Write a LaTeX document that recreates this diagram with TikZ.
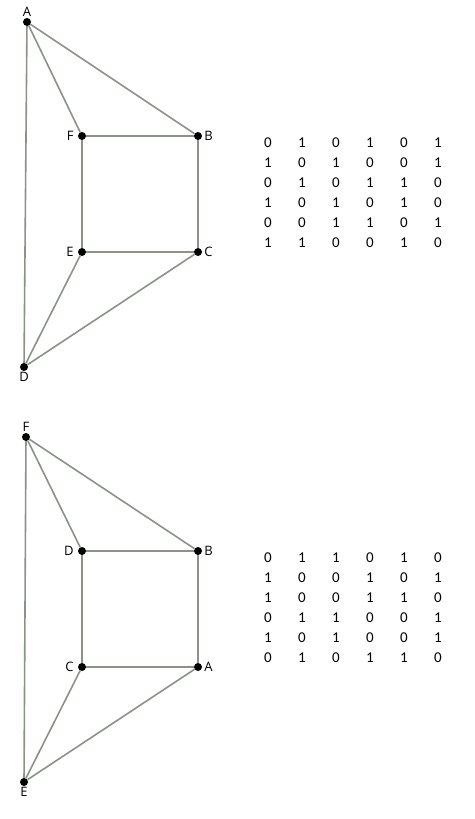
\documentclass[tikz,border=0pt]{standalone}
\usepackage{fontspec}
\setmainfont{Carlito}
\newfontfamily\labelfont{Open Sans}
\usetikzlibrary{matrix}
\definecolor{edgegray}{HTML}{8A928A}

\tikzset{
  vtx/.style={circle, fill=black, inner sep=0pt, minimum size=8pt},
  edge/.style={draw=edgegray, line width=1.6pt},
  vlabel/.style={font=\labelfont\fontsize{13}{15}\selectfont, inner sep=1pt},
  adjmat/.style={matrix of nodes, column sep=0pt, row sep=0pt,
    nodes={minimum width=34pt, minimum height=20pt, inner sep=0pt,
           font=\fontsize{15}{17}\selectfont}}
}

\begin{document}
\begin{tikzpicture}[x=1pt, y=-1pt]
    \useasboundingbox (0,0) rectangle (474,819);

    % first labelling
    \node[vtx, label={[vlabel, label distance=0pt]above:A}] (a1) at (27,22) {};
    \node[vtx, label={[vlabel, label distance=3pt]left:F}] (f1) at (82,136) {};
    \node[vtx, label={[vlabel, label distance=1pt]right:B}] (b1) at (198,136) {};
    \node[vtx, label={[vlabel, label distance=3pt]left:E}] (e1) at (82,252) {};
    \node[vtx, label={[vlabel, label distance=1pt]right:C}] (c1) at (198,252) {};
    \node[vtx, label={[vlabel, label distance=0pt]below:D}] (d1) at (24,367) {};
    \draw[edge] (a1) -- (b1) (a1) -- (f1) (a1) -- (d1)
                (f1) -- (b1) (f1) -- (e1) (b1) -- (c1)
                (e1) -- (c1) (e1) -- (d1) (c1) -- (d1);

    \matrix (adj1) [adjmat] at (353,193) {
      0 & 1 & 0 & 1 & 0 & 1 \\
      1 & 0 & 1 & 0 & 0 & 1 \\
      0 & 1 & 0 & 1 & 1 & 0 \\
      1 & 0 & 1 & 0 & 1 & 0 \\
      0 & 0 & 1 & 1 & 0 & 1 \\
      1 & 1 & 0 & 0 & 1 & 0 \\
    };

    % second labelling
    \node[vtx, label={[vlabel, label distance=0pt]above:F}] (f2) at (26,437) {};
    \node[vtx, label={[vlabel, label distance=3pt]left:D}] (d2) at (82,551) {};
    \node[vtx, label={[vlabel, label distance=1pt]right:B}] (b2) at (198,551) {};
    \node[vtx, label={[vlabel, label distance=3pt]left:C}] (c2) at (82,667) {};
    \node[vtx, label={[vlabel, label distance=1pt]right:A}] (a2) at (198,667) {};
    \node[vtx, label={[vlabel, label distance=0pt]below:E}] (e2) at (24,782) {};
    \draw[edge] (f2) -- (b2) (f2) -- (d2) (f2) -- (e2)
                (d2) -- (b2) (d2) -- (c2) (b2) -- (a2)
                (c2) -- (a2) (c2) -- (e2) (a2) -- (e2);

    \matrix (adj2) [adjmat] at (353,608) {
      0 & 1 & 1 & 0 & 1 & 0 \\
      1 & 0 & 0 & 1 & 0 & 1 \\
      1 & 0 & 0 & 1 & 1 & 0 \\
      0 & 1 & 1 & 0 & 0 & 1 \\
      1 & 0 & 1 & 0 & 0 & 1 \\
      0 & 1 & 0 & 1 & 1 & 0 \\
    };
\end{tikzpicture}
\end{document}
